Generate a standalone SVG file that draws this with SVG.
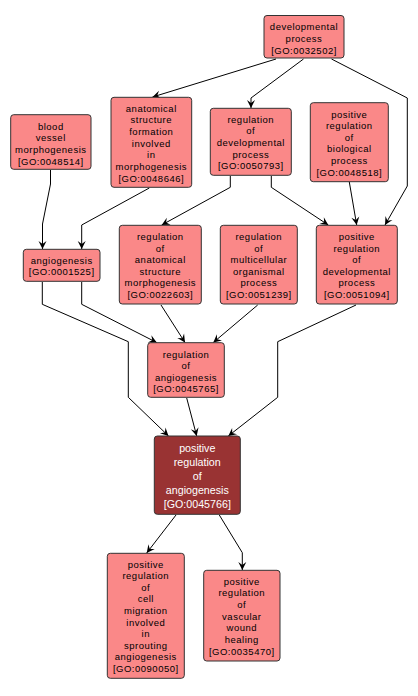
<svg xmlns="http://www.w3.org/2000/svg" width="418" height="696" viewBox="0 0 418 696">
<defs>
<marker id="arr" viewBox="-9 -5 10 10" refX="0" refY="0" markerWidth="10" markerHeight="10" markerUnits="userSpaceOnUse" orient="auto">
<path d="M0,0 L-8,-4 L-5,0 L-8,4 Z" fill="#000"/>
</marker>
</defs>
<style>
.n rect{fill:#fa8888;stroke:#333;stroke-width:1}
.n text{font-family:"Liberation Sans",Arial,sans-serif;font-size:9.5px;letter-spacing:0.5px;text-anchor:middle;fill:#000}
.d rect{fill:#993333;stroke:#333;stroke-width:1}
.d text{font-family:"Liberation Sans",Arial,sans-serif;font-size:10.7px;text-anchor:middle;fill:#fff}
#edges polyline{fill:none;stroke:#000;stroke-width:1;marker-end:url(#arr)}
</style>
<rect width="418" height="696" fill="#fff"/>
<g id="edges">
<polyline points="276,59 152.5,97"/>
<polyline points="303.5,59 251,98 251,108"/>
<polyline points="331.5,59 407.3,98 407.3,186 385,225"/>
<polyline points="50.5,170 50.5,184 42.5,224 42.5,249"/>
<polyline points="149.3,188 81.7,225 81.7,249"/>
<polyline points="230.3,176 230.3,187.3 161.7,225"/>
<polyline points="271.3,176 271.3,187.3 328.3,225"/>
<polyline points="349.3,182 356.7,225"/>
<polyline points="42.3,282 42.3,304.3 128.3,341.7 128.3,397.3 168.5,436"/>
<polyline points="81.7,282 81.7,304.3 156.7,342.5"/>
<polyline points="161,305 185,342.5"/>
<polyline points="257.7,305 213.3,342.5"/>
<polyline points="356,305 277.7,341.7 277.7,397.3 228.3,436"/>
<polyline points="186.7,398 196.7,436"/>
<polyline points="176,515 146.7,553"/>
<polyline points="219.3,515 242.3,552.7 242.3,570"/>
</g>
<g id="GO0032502" class="n">
<rect x="264" y="15.5" width="80" height="42.5" rx="3"/>
<text x="304" y="29.5">developmental</text>
<text x="304" y="41.5">process</text>
<text x="304" y="53.5">[GO:0032502]</text>
</g>
<g id="GO0048646" class="n">
<rect x="111" y="97.3" width="80.7" height="90" rx="3"/>
<text x="151.3" y="111.5">anatomical</text>
<text x="151.3" y="123.2">structure</text>
<text x="151.3" y="134.8">formation</text>
<text x="151.3" y="146.5">involved</text>
<text x="151.3" y="158.2">in</text>
<text x="151.3" y="169.8">morphogenesis</text>
<text x="151.3" y="181.5">[GO:0048646]</text>
</g>
<g id="GO0050793" class="n">
<rect x="210.3" y="108.3" width="81" height="67" rx="3"/>
<text x="250.8" y="122.5">regulation</text>
<text x="250.8" y="134.2">of</text>
<text x="250.8" y="145.9">developmental</text>
<text x="250.8" y="157.6">process</text>
<text x="250.8" y="169.3">[GO:0050793]</text>
</g>
<g id="GO0048518" class="n">
<rect x="310.3" y="102.7" width="78" height="79" rx="3"/>
<text x="349.3" y="117.5">positive</text>
<text x="349.3" y="129.1">regulation</text>
<text x="349.3" y="140.7">of</text>
<text x="349.3" y="152.3">biological</text>
<text x="349.3" y="163.9">process</text>
<text x="349.3" y="175.5">[GO:0048518]</text>
</g>
<g id="GO0048514" class="n">
<rect x="10.7" y="114.7" width="80.3" height="54.6" rx="3"/>
<text x="50.8" y="129.5">blood</text>
<text x="50.8" y="141.2">vessel</text>
<text x="50.8" y="152.9">morphogenesis</text>
<text x="50.8" y="164.6">[GO:0048514]</text>
</g>
<g id="GO0001525" class="n">
<rect x="23.3" y="249.3" width="76.7" height="32" rx="3"/>
<text x="61.7" y="263.5">angiogenesis</text>
<text x="61.7" y="275.2">[GO:0001525]</text>
</g>
<g id="GO0022603" class="n">
<rect x="119.3" y="225.3" width="82" height="78.7" rx="3"/>
<text x="160.3" y="240.2">regulation</text>
<text x="160.3" y="251.7">of</text>
<text x="160.3" y="263.2">anatomical</text>
<text x="160.3" y="274.7">structure</text>
<text x="160.3" y="286.2">morphogenesis</text>
<text x="160.3" y="297.7">[GO:0022603]</text>
</g>
<g id="GO0051239" class="n">
<rect x="220.3" y="225.3" width="77" height="78.7" rx="3"/>
<text x="258.8" y="240.2">regulation</text>
<text x="258.8" y="251.7">of</text>
<text x="258.8" y="263.2">multicellular</text>
<text x="258.8" y="274.7">organismal</text>
<text x="258.8" y="286.2">process</text>
<text x="258.8" y="297.7">[GO:0051239]</text>
</g>
<g id="GO0051094" class="n">
<rect x="316.3" y="225.3" width="81" height="78.7" rx="3"/>
<text x="356.8" y="240.2">positive</text>
<text x="356.8" y="251.7">regulation</text>
<text x="356.8" y="263.2">of</text>
<text x="356.8" y="274.7">developmental</text>
<text x="356.8" y="286.2">process</text>
<text x="356.8" y="297.7">[GO:0051094]</text>
</g>
<g id="GO0045765" class="n">
<rect x="147.7" y="342.7" width="76.6" height="54.6" rx="3"/>
<text x="186" y="357.5">regulation</text>
<text x="186" y="369.1">of</text>
<text x="186" y="380.7">angiogenesis</text>
<text x="186" y="392.3">[GO:0045765]</text>
</g>
<g id="GO0045766" class="d">
<rect x="154.3" y="436" width="86" height="78.3" rx="3"/>
<text x="197.3" y="452">positive</text>
<text x="197.3" y="466">regulation</text>
<text x="197.3" y="480">of</text>
<text x="197.3" y="494">angiogenesis</text>
<text x="197.3" y="508">[GO:0045766]</text>
</g>
<g id="GO0090050" class="n">
<rect x="107.3" y="553.3" width="77" height="125" rx="3"/>
<text x="145.8" y="567.5">positive</text>
<text x="145.8" y="579.1">regulation</text>
<text x="145.8" y="590.7">of</text>
<text x="145.8" y="602.3">cell</text>
<text x="145.8" y="613.9">migration</text>
<text x="145.8" y="625.5">involved</text>
<text x="145.8" y="637.1">in</text>
<text x="145.8" y="648.7">sprouting</text>
<text x="145.8" y="660.3">angiogenesis</text>
<text x="145.8" y="671.9">[GO:0090050]</text>
</g>
<g id="GO0035470" class="n">
<rect x="203.7" y="570.3" width="76.3" height="90.7" rx="3"/>
<text x="241.8" y="584.5">positive</text>
<text x="241.8" y="596.2">regulation</text>
<text x="241.8" y="607.9">of</text>
<text x="241.8" y="619.6">vascular</text>
<text x="241.8" y="631.3">wound</text>
<text x="241.8" y="643">healing</text>
<text x="241.8" y="654.7">[GO:0035470]</text>
</g>
</svg>
